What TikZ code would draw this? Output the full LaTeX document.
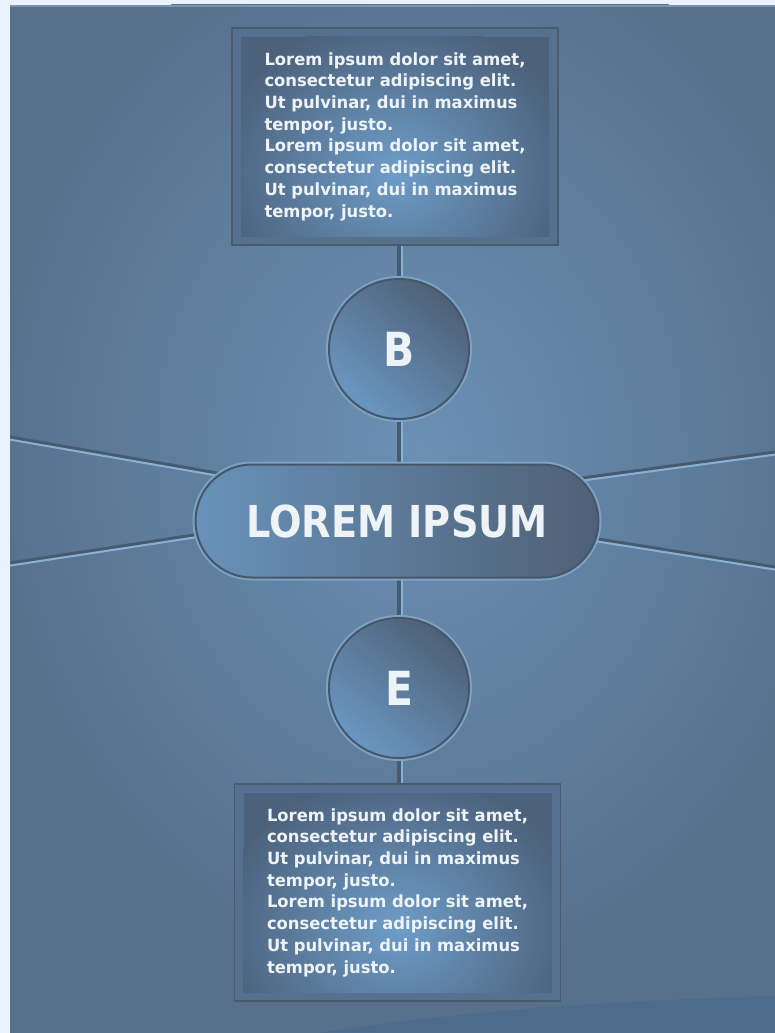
\documentclass[tikz,border=0pt]{standalone}
\usepackage{fontspec}
\setmainfont{DejaVu Sans}
\newfontfamily\titlefont[FakeStretch=0.87]{DejaVu Sans}
\newfontfamily\bodyfont[FakeStretch=0.975]{DejaVu Sans}
\usetikzlibrary{shapes.misc}
\pgfdeclarelayer{bg}
\pgfsetlayers{bg,main}
\definecolor{margin}{HTML}{E9F3FD}
\definecolor{bgbase}{HTML}{57708C}
\definecolor{bglight}{HTML}{6A90B4}
\definecolor{topline}{HTML}{7F93A8}
\definecolor{swoosh}{HTML}{466789}
\definecolor{linedark}{HTML}{485A6E}
\definecolor{linelight}{HTML}{88B0D4}
\definecolor{framecol}{HTML}{56718F}
\definecolor{frameedge}{HTML}{4A5B6E}
\definecolor{boxedge}{HTML}{4C617B}
\definecolor{boxlight}{HTML}{6E9DC8}
\definecolor{circdark}{HTML}{4E6077}
\definecolor{circlight}{HTML}{6A97C1}
\definecolor{ringdark}{HTML}{46576A}
\definecolor{ringlight}{HTML}{7CA3C6}
\definecolor{pilllight}{HTML}{6892BA}
\definecolor{pilldark}{HTML}{4F6075}
\definecolor{txt}{HTML}{EEF3F8}
\begin{document}
\begin{tikzpicture}[x=1pt,y=-1pt,
  groove/.style={draw=linedark, line width=3pt,
    postaction={draw=linelight, line width=2pt, transform canvas={yshift=-2.6pt}}},
  vgroove/.style={draw=linedark, line width=3.5pt,
    postaction={draw=linelight, line width=2.2pt, transform canvas={xshift=2.8pt}}},
  textbox/.style={rectangle, minimum width=326pt, minimum height=217pt, inner sep=0pt,
    fill=framecol, draw=frameedge, line width=1.5pt, align=left, text=txt,
    font=\bodyfont\bfseries\fontsize{16.8}{21.7}\selectfont,
    path picture={
      \fill[boxedge] ([xshift=9pt,yshift=-9pt]path picture bounding box.north west) rectangle ([xshift=-9pt,yshift=9pt]path picture bounding box.south east);
      \begin{scope}
        \clip ([xshift=9pt,yshift=-9pt]path picture bounding box.north west) rectangle ([xshift=-9pt,yshift=9pt]path picture bounding box.south east);
        \shade[inner color=boxlight, outer color=boxedge] ([yshift=-35pt]path picture bounding box.center) ellipse (180pt and 155pt);
      \end{scope}
    }},
  letter/.style={circle, minimum size=140pt, inner sep=0pt,
    top color=circdark, bottom color=circlight, shading angle=-40,
    draw=ringdark, line width=2pt, preaction={draw=ringlight, line width=6pt},
    text=txt, font=\titlefont\bfseries\fontsize{47}{47}\selectfont},
  pill/.style={rounded rectangle, minimum width=403pt, minimum height=113pt, inner sep=0pt,
    left color=pilllight, right color=pilldark,
    draw=ringdark, line width=2pt, preaction={draw=ringlight, line width=6pt},
    text=txt, font=\titlefont\bfseries\fontsize{44}{44}\selectfont}
]
\useasboundingbox (0,0) rectangle (775,1033);
\begin{pgfonlayer}{bg}
  \fill[margin] (0,0) rectangle (775,1033);
  \fill[bgbase] (10,5) rectangle (775,1033);
  \begin{scope}
    \clip (10,5) rectangle (775,1033);
    \shade[inner color=bglight, outer color=bgbase] (420,450) ellipse (440 and 540);
    \fill[swoosh, opacity=.55] (320,1033) .. controls (480,1008) and (640,1000) .. (775,996) -- (775,1033) -- cycle;
  \end{scope}
  \fill[topline] (10,5) rectangle (775,7);
\end{pgfonlayer}

\node[textbox] (top) at (395,136.5) {Lorem ipsum dolor sit amet,\\consectetur adipiscing elit.\\Ut pulvinar, dui in maximus\\tempor, justo.\\Lorem ipsum dolor sit amet,\\consectetur adipiscing elit.\\Ut pulvinar, dui in maximus\\tempor, justo.};
\node[letter] (B) at (399,349) {B};
\node[pill] (center) at (397,521) {LOREM IPSUM};
\node[letter] (E) at (399,688) {E};
\node[textbox] (bottom) at (397.5,892.5) {Lorem ipsum dolor sit amet,\\consectetur adipiscing elit.\\Ut pulvinar, dui in maximus\\tempor, justo.\\Lorem ipsum dolor sit amet,\\consectetur adipiscing elit.\\Ut pulvinar, dui in maximus\\tempor, justo.};

\coordinate (l1a) at (10,437);  \coordinate (l1b) at (240,477);
\coordinate (l2a) at (10,563);  \coordinate (l2b) at (240,528);
\coordinate (r1a) at (775,452); \coordinate (r1b) at (560,481);
\coordinate (r2a) at (775,567); \coordinate (r2b) at (560,533);

\begin{pgfonlayer}{bg}
  \begin{scope}
    \clip (10,5) rectangle (775,1033);
    \draw[groove] (l1a) -- (l1b);
    \draw[groove] (l2a) -- (l2b);
    \draw[groove] (r1a) -- (r1b);
    \draw[groove] (r2a) -- (r2b);
  \end{scope}
  \draw[vgroove] (B.north |- top.south) -- (B.north);
  \draw[vgroove] (B.south) -- (B.south |- center.north);
  \draw[vgroove] (E.north |- center.south) -- (E.north);
  \draw[vgroove] (E.south) -- (E.south |- bottom.north);
\end{pgfonlayer}
\end{tikzpicture}
\end{document}
